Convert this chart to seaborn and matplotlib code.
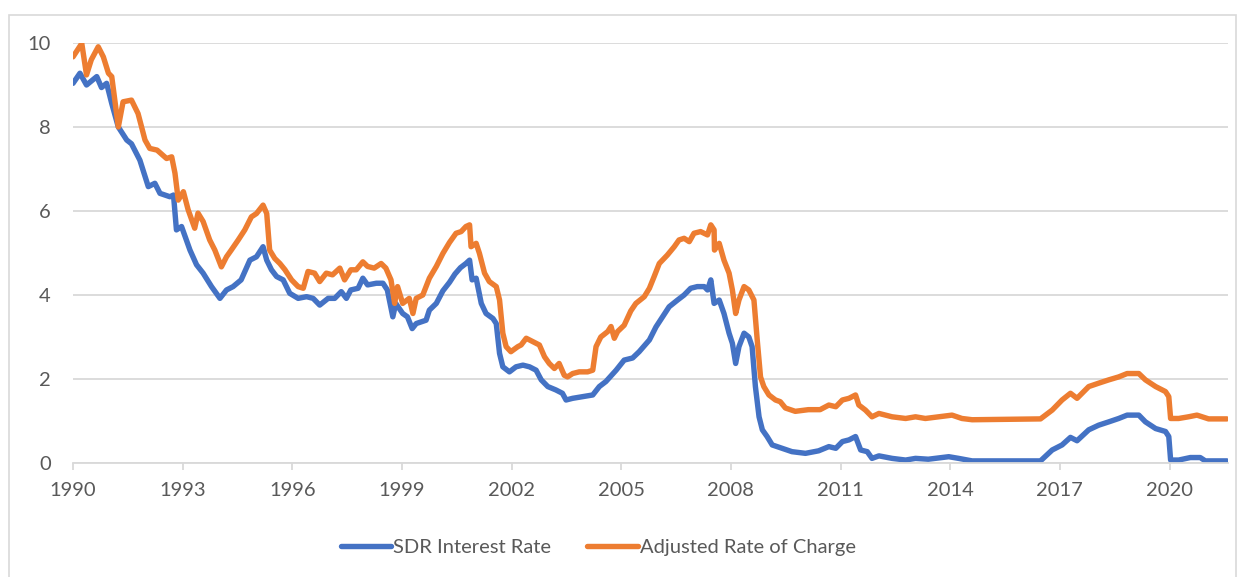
import pandas as pd
import matplotlib
matplotlib.use("Agg")
import matplotlib.pyplot as plt
import seaborn as sns
from matplotlib.patches import Rectangle

# data (year, percent)
sdr_years = [1990.0, 1990.19, 1990.37, 1990.65, 1990.78, 1990.92, 1991.06, 1991.24, 1991.47, 1991.6,
             1991.83, 1992.06, 1992.24, 1992.38, 1992.65, 1992.75, 1992.83, 1992.97, 1993.2, 1993.38,
             1993.56, 1993.79, 1994.02, 1994.2, 1994.38, 1994.6, 1994.84, 1995.02, 1995.2, 1995.3,
             1995.43, 1995.57, 1995.75, 1995.93, 1996.16, 1996.39, 1996.57, 1996.75, 1996.98, 1997.16,
             1997.34, 1997.48, 1997.6, 1997.8, 1997.93, 1998.06, 1998.3, 1998.48, 1998.6, 1998.75,
             1998.83, 1999.02, 1999.15, 1999.28, 1999.39, 1999.66, 1999.75, 1999.94, 2000.12, 2000.3,
             2000.45, 2000.6, 2000.75, 2000.85, 2000.92, 2001.03, 2001.17, 2001.3, 2001.49, 2001.58,
             2001.67, 2001.76, 2001.94, 2002.12, 2002.31, 2002.49, 2002.67, 2002.81, 2002.99, 2003.21,
             2003.39, 2003.49, 2003.67, 2003.94, 2004.22, 2004.4, 2004.58, 2004.86, 2005.08, 2005.31,
             2005.49, 2005.77, 2005.95, 2006.13, 2006.31, 2006.54, 2006.72, 2006.9, 2007.08, 2007.27,
             2007.36, 2007.45, 2007.54, 2007.68, 2007.81, 2007.95, 2008.04, 2008.13, 2008.22, 2008.36,
             2008.49, 2008.58, 2008.67, 2008.77, 2008.86, 2008.99, 2009.13, 2009.4, 2009.67, 2010.04,
             2010.4, 2010.68, 2010.87, 2011.05, 2011.23, 2011.41, 2011.55, 2011.73, 2011.86, 2012.05,
             2012.41, 2012.78, 2013.05, 2013.4, 2013.96, 2014.23, 2014.6, 2016.47, 2016.79, 2017.06,
             2017.29, 2017.47, 2017.79, 2018.06, 2018.34, 2018.61, 2018.84, 2019.16, 2019.34, 2019.62,
             2019.89, 2019.98, 2020.03, 2020.25, 2020.57, 2020.84, 2020.98, 2021.57]
sdr_rate = [9.04, 9.28, 9.0, 9.2, 8.94, 9.04, 8.56, 8.0, 7.69, 7.6,
            7.21, 6.58, 6.66, 6.42, 6.34, 6.38, 5.55, 5.63, 5.07, 4.72,
            4.52, 4.2, 3.92, 4.12, 4.2, 4.36, 4.83, 4.91, 5.15, 4.83,
            4.6, 4.44, 4.36, 4.04, 3.92, 3.96, 3.92, 3.76, 3.92, 3.92,
            4.08, 3.92, 4.12, 4.16, 4.4, 4.24, 4.28, 4.28, 4.12, 3.48,
            3.8, 3.56, 3.48, 3.2, 3.32, 3.4, 3.64, 3.8, 4.1, 4.3,
            4.5, 4.65, 4.75, 4.83, 4.36, 4.4, 3.8, 3.56, 3.44, 3.32,
            2.61, 2.29, 2.17, 2.29, 2.33, 2.29, 2.21, 1.98, 1.82, 1.74,
            1.66, 1.5, 1.54, 1.58, 1.62, 1.82, 1.94, 2.21, 2.45, 2.5,
            2.65, 2.93, 3.24, 3.48, 3.72, 3.88, 4.0, 4.16, 4.2, 4.2,
            4.12, 4.36, 3.8, 3.88, 3.56, 3.09, 2.85, 2.37, 2.77, 3.09,
            3.0, 2.77, 1.82, 1.1, 0.79, 0.63, 0.43, 0.35, 0.27, 0.23,
            0.29, 0.39, 0.35, 0.51, 0.55, 0.63, 0.31, 0.27, 0.11, 0.17,
            0.11, 0.07, 0.11, 0.09, 0.15, 0.11, 0.05, 0.05, 0.31, 0.43,
            0.61, 0.53, 0.79, 0.9, 0.98, 1.06, 1.14, 1.14, 0.98, 0.82,
            0.75, 0.63, 0.07, 0.07, 0.13, 0.13, 0.05, 0.05]

charge_years = [1990.0, 1990.24, 1990.37, 1990.5, 1990.69, 1990.83, 1990.97, 1991.06, 1991.24, 1991.37,
                1991.6, 1991.78, 1991.97, 1992.1, 1992.3, 1992.56, 1992.7, 1992.79, 1992.88, 1993.02,
                1993.15, 1993.33, 1993.42, 1993.56, 1993.74, 1993.88, 1994.06, 1994.2, 1994.33, 1994.52,
                1994.7, 1994.88, 1995.02, 1995.2, 1995.3, 1995.38, 1995.52, 1995.66, 1995.8, 1995.98,
                1996.16, 1996.3, 1996.43, 1996.61, 1996.75, 1996.93, 1997.1, 1997.3, 1997.43, 1997.6,
                1997.75, 1997.93, 1998.06, 1998.24, 1998.43, 1998.56, 1998.7, 1998.8, 1998.88, 1999.02,
                1999.2, 1999.3, 1999.39, 1999.57, 1999.75, 1999.94, 2000.12, 2000.3, 2000.48, 2000.62,
                2000.75, 2000.85, 2000.89, 2001.03, 2001.12, 2001.26, 2001.39, 2001.58, 2001.67, 2001.76,
                2001.85, 2001.98, 2002.17, 2002.26, 2002.4, 2002.58, 2002.76, 2002.9, 2003.03, 2003.17,
                2003.3, 2003.44, 2003.53, 2003.67, 2003.85, 2004.08, 2004.22, 2004.31, 2004.44, 2004.63,
                2004.72, 2004.81, 2004.9, 2005.08, 2005.26, 2005.4, 2005.63, 2005.77, 2005.9, 2006.04,
                2006.26, 2006.45, 2006.58, 2006.72, 2006.86, 2006.99, 2007.17, 2007.36, 2007.45, 2007.54,
                2007.55, 2007.68, 2007.81, 2007.95, 2008.04, 2008.13, 2008.22, 2008.36, 2008.49, 2008.63,
                2008.72, 2008.81, 2008.9, 2009.04, 2009.22, 2009.35, 2009.49, 2009.76, 2010.12, 2010.44,
                2010.68, 2010.87, 2011.05, 2011.23, 2011.41, 2011.5, 2011.68, 2011.86, 2012.05, 2012.41,
                2012.78, 2013.05, 2013.32, 2013.69, 2014.05, 2014.32, 2014.6, 2016.47, 2016.79, 2017.06,
                2017.29, 2017.47, 2017.79, 2018.06, 2018.34, 2018.61, 2018.84, 2019.16, 2019.34, 2019.62,
                2019.89, 2019.98, 2020.03, 2020.25, 2020.52, 2020.75, 2020.89, 2021.07, 2021.57]
charge_rate = [9.67, 9.99, 9.24, 9.6, 9.91, 9.67, 9.28, 9.2, 8.0, 8.6,
               8.64, 8.32, 7.69, 7.49, 7.45, 7.25, 7.29, 6.9, 6.26, 6.46,
               6.03, 5.59, 5.95, 5.75, 5.31, 5.07, 4.67, 4.91, 5.07, 5.31,
               5.55, 5.86, 5.94, 6.14, 5.94, 5.07, 4.87, 4.75, 4.6, 4.36,
               4.2, 4.16, 4.56, 4.52, 4.32, 4.52, 4.48, 4.64, 4.36, 4.6,
               4.6, 4.79, 4.68, 4.64, 4.75, 4.64, 4.36, 3.8, 4.2, 3.8,
               3.92, 3.56, 3.92, 4.0, 4.4, 4.68, 4.99, 5.25, 5.47, 5.51,
               5.63, 5.67, 5.15, 5.23, 4.99, 4.52, 4.32, 4.2, 3.88, 3.09,
               2.77, 2.65, 2.77, 2.81, 2.97, 2.89, 2.81, 2.53, 2.37, 2.25,
               2.37, 2.09, 2.05, 2.13, 2.17, 2.17, 2.21, 2.77, 3.0, 3.13,
               3.25, 2.97, 3.13, 3.28, 3.62, 3.8, 3.96, 4.16, 4.44, 4.75,
               4.95, 5.15, 5.31, 5.35, 5.27, 5.47, 5.51, 5.43, 5.67, 5.55,
               5.07, 5.23, 4.83, 4.52, 4.12, 3.56, 3.88, 4.2, 4.12, 3.88,
               2.93, 2.05, 1.82, 1.62, 1.5, 1.46, 1.31, 1.23, 1.27, 1.27,
               1.38, 1.34, 1.5, 1.54, 1.62, 1.38, 1.26, 1.1, 1.18, 1.1,
               1.06, 1.1, 1.06, 1.1, 1.14, 1.06, 1.03, 1.05, 1.26, 1.5,
               1.66, 1.54, 1.82, 1.9, 1.98, 2.05, 2.13, 2.13, 1.98, 1.82,
               1.7, 1.58, 1.06, 1.06, 1.1, 1.14, 1.1, 1.05, 1.05]

series_names = ["SDR Interest Rate", "Adjusted Rate of Charge"]
x_ticks = list(range(1990, 2021, 3))
y_ticks = [0, 2, 4, 6, 8, 10]

df = pd.concat([
    pd.DataFrame({"year": sdr_years, "rate": sdr_rate, "series": series_names[0]}),
    pd.DataFrame({"year": charge_years, "rate": charge_rate, "series": series_names[1]}),
])

sns.set_style("white")
plt.rcParams["font.family"] = ["Lato", "DejaVu Sans"]

text_grey = "#595959"
line_grey = "#D9D9D9"

fig = plt.figure(figsize=(12.44, 5.77), dpi=100)
ax = fig.add_axes([73 / 1244, 1 - 463 / 577, (1228 - 73) / 1244, (463 - 43) / 577])

sns.lineplot(data=df, x="year", y="rate", hue="series", hue_order=series_names,
             palette=["#4472C4", "#ED7D31"], estimator=None, sort=False,
             linewidth=3.9, ax=ax, legend=True)
for line in ax.get_lines():
    line.set_solid_joinstyle("round")
    line.set_solid_capstyle("round")

ax.set_xlim(1990, 2021.6)
ax.set_ylim(0, 10)
ax.set_xticks(x_ticks)
ax.set_yticks(y_ticks)
ax.set_xlabel("")
ax.set_ylabel("")
ax.yaxis.grid(True, color=line_grey, linewidth=1.3)
ax.set_axisbelow(True)
for side in ["top", "right", "left"]:
    ax.spines[side].set_visible(False)
ax.spines["bottom"].set_color(line_grey)
ax.spines["bottom"].set_linewidth(1.3)
ax.tick_params(axis="x", length=5, width=1.3, color=line_grey, pad=9,
               labelsize=14.5, labelcolor=text_grey, bottom=True)
ax.tick_params(axis="y", length=0, pad=16, labelsize=14.5, labelcolor=text_grey)

# legend under the plot
handles, labels = ax.get_legend_handles_labels()
ax.get_legend().remove()
leg = fig.legend(handles, labels, loc="center", bbox_to_anchor=(0.481, 1 - 547 / 577),
                 ncol=2, frameon=False, fontsize=14.5, handlelength=2.5, handletextpad=0.1,
                 columnspacing=1.8, labelcolor=text_grey)
for h in leg.get_lines():
    h.set_linewidth(3.9)
    h.set_solid_capstyle("round")

# chart area border
fig.patches.append(Rectangle((9 / 1244, -0.01), 1227 / 1244, 1 - 15 / 577 + 0.01,
                             transform=fig.transFigure, fill=False,
                             edgecolor=line_grey, linewidth=1.2))

fig.savefig("out.png", dpi=100)
